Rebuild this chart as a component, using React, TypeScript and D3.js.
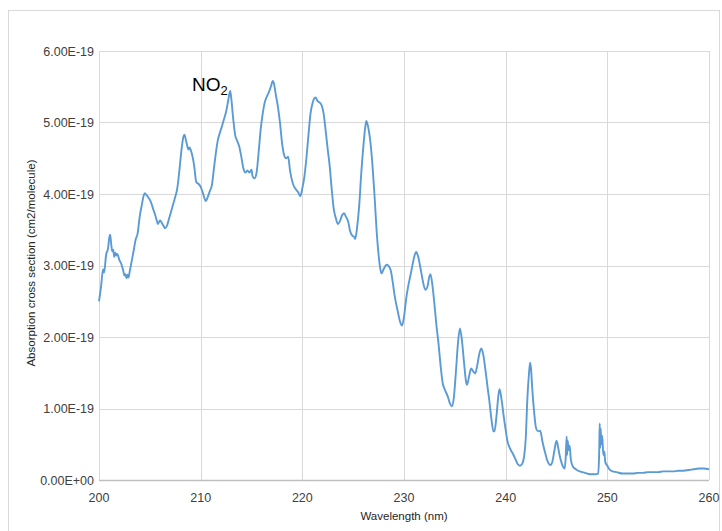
import React, { useEffect, useRef } from 'react';
import * as d3 from 'd3';

// wavelength (nm) and NO2 absorption cross section (units of 1e-19 cm2/molecule)
const wavelengths = [
  200.0, 200.2, 200.4, 200.5, 200.7, 200.9, 201.0, 201.1, 201.2, 201.3, 201.4, 201.5, 201.6, 201.7, 201.8,
  202.0, 202.2, 202.4, 202.5, 202.6, 202.7, 202.8, 202.9, 203.0, 203.2, 203.4, 203.6, 203.8, 204.0, 204.2,
  204.4, 204.5, 204.7, 204.9, 205.0, 205.2, 205.3, 205.5, 205.7, 205.8, 206.0, 206.2, 206.4, 206.5, 206.7,
  206.9, 207.1, 207.3, 207.5, 207.7, 207.9, 208.1, 208.3, 208.4, 208.6, 208.8, 208.9, 209.1, 209.3, 209.4,
  209.5, 209.6, 209.8, 210.0, 210.2, 210.4, 210.5, 210.7, 210.9, 211.1, 211.3, 211.5, 211.7, 211.9, 212.1,
  212.3, 212.5, 212.7, 212.9, 213.0, 213.2, 213.4, 213.6, 213.8, 214.0, 214.2, 214.4, 214.6, 214.8, 215.0,
  215.1, 215.3, 215.5, 215.7, 215.9, 216.1, 216.3, 216.5, 216.7, 216.9, 217.1, 217.2, 217.4, 217.6, 217.8,
  218.0, 218.2, 218.4, 218.6, 218.8, 219.0, 219.2, 219.4, 219.6, 219.8, 220.0, 220.2, 220.4, 220.6, 220.8,
  221.0, 221.3, 221.5, 221.7, 221.9, 222.1, 222.3, 222.5, 222.7, 222.9, 223.1, 223.3, 223.5, 223.7, 223.9,
  224.1, 224.3, 224.5, 224.7, 224.9, 225.1, 225.2, 225.4, 225.6, 225.8, 226.0, 226.2, 226.3, 226.5, 226.7,
  226.9, 227.1, 227.3, 227.5, 227.7, 227.8, 228.0, 228.3, 228.5, 228.7, 228.9, 229.1, 229.4, 229.6, 229.8,
  230.0, 230.2, 230.4, 230.6, 230.8, 231.0, 231.2, 231.4, 231.7, 231.9, 232.1, 232.3, 232.5, 232.6, 232.8,
  233.0, 233.2, 233.4, 233.6, 233.8, 234.0, 234.3, 234.5, 234.7, 234.9, 235.1, 235.3, 235.5, 235.7, 235.9,
  236.1, 236.2, 236.4, 236.6, 236.8, 237.0, 237.2, 237.4, 237.6, 237.8, 238.0, 238.2, 238.4, 238.6, 238.8,
  238.9, 239.1, 239.3, 239.4, 239.6, 239.8, 240.0, 240.2, 240.4, 240.7, 241.0, 241.2, 241.4, 241.6, 241.8,
  242.0, 242.1, 242.3, 242.4, 242.5, 242.6, 242.8, 243.0, 243.2, 243.4, 243.6, 243.9, 244.1, 244.4, 244.6,
  244.8, 245.0, 245.1, 245.3, 245.5, 245.8, 245.9, 246.0, 246.05, 246.1, 246.2, 246.3, 246.4, 246.6, 246.8,
  247.0, 247.3, 247.8, 248.3, 248.8, 249.1, 249.2, 249.25, 249.3, 249.35, 249.4, 249.5, 249.6, 249.7, 249.8,
  250.0, 250.2, 250.5, 250.9, 251.5, 252.0, 252.5, 253.0, 253.5, 254.0, 254.5, 255.0, 255.5, 256.0, 256.5,
  257.0, 257.5, 258.0, 258.5, 259.0, 259.5, 260.0,
];

const crossSection = [
  2.50, 2.70, 2.95, 2.90, 3.15, 3.25, 3.38, 3.43, 3.30, 3.20, 3.22, 3.12, 3.18, 3.14, 3.16,
  3.08, 3.02, 2.92, 2.86, 2.88, 2.82, 2.87, 2.83, 2.90, 3.05, 3.20, 3.36, 3.45, 3.68, 3.84,
  3.98, 4.01, 3.98, 3.94, 3.92, 3.85, 3.80, 3.72, 3.62, 3.58, 3.63, 3.59, 3.54, 3.52, 3.56,
  3.66, 3.76, 3.86, 3.96, 4.08, 4.32, 4.60, 4.80, 4.83, 4.72, 4.62, 4.65, 4.58, 4.45, 4.35,
  4.22, 4.16, 4.14, 4.10, 4.02, 3.93, 3.90, 3.96, 4.04, 4.12, 4.35, 4.58, 4.76, 4.86, 4.95,
  5.05, 5.15, 5.30, 5.44, 5.35, 5.05, 4.82, 4.74, 4.66, 4.52, 4.36, 4.30, 4.33, 4.30, 4.34,
  4.25, 4.22, 4.30, 4.58, 4.90, 5.12, 5.28, 5.36, 5.42, 5.50, 5.58, 5.55, 5.38, 5.22, 5.00,
  4.72, 4.55, 4.50, 4.52, 4.32, 4.18, 4.10, 4.06, 4.02, 3.97, 4.08, 4.24, 4.50, 4.82, 5.12,
  5.27, 5.35, 5.30, 5.28, 5.24, 5.12, 4.88, 4.62, 4.38, 4.05, 3.78, 3.66, 3.58, 3.62, 3.70,
  3.73, 3.68, 3.62, 3.48, 3.42, 3.40, 3.37, 3.55, 3.85, 4.30, 4.66, 4.95, 5.02, 4.92, 4.72,
  4.40, 3.98, 3.50, 3.15, 2.93, 2.89, 2.95, 3.01, 2.99, 2.93, 2.76, 2.56, 2.35, 2.22, 2.16,
  2.28, 2.52, 2.70, 2.84, 2.98, 3.12, 3.19, 3.12, 2.90, 2.75, 2.66, 2.70, 2.85, 2.88, 2.72,
  2.45, 2.15, 1.90, 1.60, 1.36, 1.27, 1.17, 1.08, 1.03, 1.15, 1.50, 1.90, 2.12, 1.95, 1.65,
  1.38, 1.33, 1.45, 1.56, 1.52, 1.49, 1.60, 1.76, 1.84, 1.75, 1.55, 1.32, 1.10, 0.85, 0.68,
  0.68, 0.90, 1.20, 1.27, 1.12, 0.90, 0.70, 0.53, 0.45, 0.37, 0.28, 0.22, 0.20, 0.22, 0.32,
  0.65, 1.03, 1.50, 1.64, 1.55, 1.31, 0.95, 0.72, 0.68, 0.69, 0.55, 0.37, 0.27, 0.21, 0.26,
  0.42, 0.55, 0.50, 0.35, 0.24, 0.16, 0.30, 0.61, 0.35, 0.55, 0.42, 0.48, 0.30, 0.19, 0.16,
  0.14, 0.12, 0.10, 0.08, 0.08, 0.09, 0.40, 0.79, 0.45, 0.72, 0.50, 0.62, 0.35, 0.40, 0.25,
  0.20, 0.15, 0.12, 0.11, 0.09, 0.09, 0.09, 0.10, 0.10, 0.11, 0.11, 0.11, 0.12, 0.12, 0.12,
  0.13, 0.13, 0.14, 0.15, 0.16, 0.16, 0.15,
];

const xTicks = [200, 210, 220, 230, 240, 250, 260];
const yTicks = [0, 1, 2, 3, 4, 5, 6];
const yTickLabels = ['0.00E+00', '1.00E-19', '2.00E-19', '3.00E-19', '4.00E-19', '5.00E-19', '6.00E-19'];

const App = () => {
  const svgRef = useRef<SVGSVGElement>(null);

  useEffect(() => {
    const svg = d3.select(svgRef.current);
    const width = 722;
    const height = 531;
    const margin = { top: 51, right: 13, bottom: 51, left: 99 };
    const font = '"Liberation Sans", Arial, sans-serif';

    svg.selectAll('*').remove();

    // chart border
    svg.append('rect')
      .attr('x', 8.5)
      .attr('y', 10.5)
      .attr('width', 711)
      .attr('height', 540)
      .attr('fill', '#fff')
      .attr('stroke', '#d9d9d9');

    const x = d3.scaleLinear()
      .domain([200, 260])
      .range([margin.left, width - margin.right]);

    const y = d3.scaleLinear()
      .domain([0, 6])
      .range([height - margin.bottom, margin.top]);

    // gridlines
    svg.append('g')
      .selectAll('line')
      .data(yTicks.slice(1))
      .join('line')
      .attr('x1', x(200))
      .attr('x2', x(260))
      .attr('y1', d => Math.round(y(d)) + 0.5)
      .attr('y2', d => Math.round(y(d)) + 0.5)
      .attr('stroke', '#d9d9d9');

    svg.append('g')
      .selectAll('line')
      .data(xTicks)
      .join('line')
      .attr('x1', d => Math.round(x(d)) + 0.5)
      .attr('x2', d => Math.round(x(d)) + 0.5)
      .attr('y1', y(6))
      .attr('y2', y(0))
      .attr('stroke', '#d9d9d9');

    // x axis line
    svg.append('line')
      .attr('x1', x(200))
      .attr('x2', x(260))
      .attr('y1', Math.round(y(0)) + 0.5)
      .attr('y2', Math.round(y(0)) + 0.5)
      .attr('stroke', '#bfbfbf')
      .attr('stroke-width', 1.5);

    // tick labels
    svg.append('g')
      .selectAll('text')
      .data(yTicks)
      .join('text')
      .attr('x', x(200) - 5)
      .attr('y', d => y(d) + 4.5)
      .attr('text-anchor', 'end')
      .style('font-family', font)
      .style('font-size', '12.5px')
      .attr('fill', '#404040')
      .text((d, i) => yTickLabels[i]);

    svg.append('g')
      .selectAll('text')
      .data(xTicks)
      .join('text')
      .attr('x', d => x(d))
      .attr('y', y(0) + 22)
      .attr('text-anchor', 'middle')
      .style('font-family', font)
      .style('font-size', '12.5px')
      .attr('fill', '#404040')
      .text(d => d);

    // axis titles
    svg.append('text')
      .attr('x', (x(200) + x(260)) / 2)
      .attr('y', 520)
      .attr('text-anchor', 'middle')
      .style('font-family', font)
      .style('font-size', '11.5px')
      .attr('fill', '#262626')
      .text('Wavelength (nm)');

    svg.append('text')
      .attr('transform', 'rotate(-90)')
      .attr('x', -263)
      .attr('y', 35)
      .attr('text-anchor', 'middle')
      .style('font-family', font)
      .style('font-size', '11.5px')
      .attr('fill', '#262626')
      .text('Absorption cross section (cm2/molecule)');

    // spectrum
    const points = wavelengths.map((w, i) => [w, crossSection[i]] as [number, number]);
    const line = d3.line<[number, number]>()
      .x(d => x(d[0]))
      .y(d => y(d[1]))
      .curve(d3.curveMonotoneX);

    svg.append('path')
      .datum(points)
      .attr('fill', 'none')
      .attr('stroke', '#5b9bd5')
      .attr('stroke-width', 1.9)
      .attr('stroke-linejoin', 'round')
      .attr('d', line);

    // NO2 label
    const label = svg.append('text')
      .attr('x', 192)
      .attr('y', 91)
      .style('font-family', font)
      .style('font-size', '19px')
      .attr('fill', '#000');
    label.append('tspan').text('NO');
    label.append('tspan')
      .attr('dy', 4)
      .style('font-size', '13px')
      .text('2');
  }, []);

  return (
    <svg
      ref={svgRef}
      width={722}
      height={531}
      style={{ position: 'absolute', left: 0, top: 0 }}
    />
  );
};

export default App;
